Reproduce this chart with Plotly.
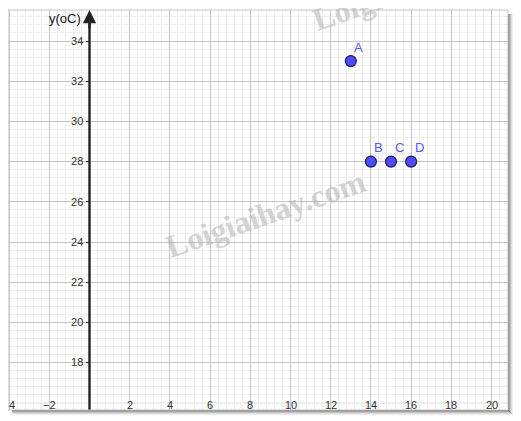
import plotly.graph_objects as go

# data
point_names = ["A", "B", "C", "D"]
point_x = [13, 14, 15, 16]
point_y = [33, 28, 28, 28]
xtick_vals = [-4, -2, 2, 4, 6, 8, 10, 12, 14, 16, 18, 20]
xtick_text = ["4", "−2", "2", "4", "6", "8", "10", "12", "14", "16", "18", "20"]
ytick_vals = [18, 20, 22, 24, 26, 28, 30, 32, 34]
y_title = "y(oC)"
watermark = "Loigiaihay.com"

# the page body has an 8px margin, so figure pixel = page pixel - 8
OFF = 8
W, H = 521 - OFF, 421 - OFF
ML, MT = 8 - OFF, 10 - OFF
PW, PH = 500, 400
MR, MB = W - ML - PW, H - MT - PH
X0, XPX = 89.5 - OFF, 20.1   # figure pixel of x=0, pixels per unit
XMIN = (ML - X0) / XPX
XMAX = (ML + PW - X0) / XPX
Y34, YPX = 41.0 - OFF, 20.1
YMAX = 34 + (Y34 - MT) / YPX
YMIN = 34 - (MT + PH - Y34) / YPX


def px(xp):  # page pixel -> paper x
    return (xp - OFF - ML) / PW


def py(yp):  # page pixel -> paper y
    return 1 - (yp - OFF - MT) / PH


fig = go.Figure()
fig.add_trace(go.Scatter(
    x=point_x, y=point_y, mode="markers",
    marker=dict(size=11, color="#4d4dff", line=dict(color="#1c1c5a", width=1.2)),
    hoverinfo="skip", showlegend=False, cliponaxis=False))

annotations = []
for n, x, y in zip(point_names, point_x, point_y):
    annotations.append(dict(x=x, y=y, xref="x", yref="y", text=n, showarrow=False,
                            xshift=8, yshift=14,
                            font=dict(family="Liberation Sans, Arial", size=13, color="#5555ff")))
for v, t in zip(xtick_vals, xtick_text):
    annotations.append(dict(x=v, y=0, xref="x", yref="paper", text=t, showarrow=False,
                            yanchor="bottom", yshift=-3, xshift=3 if v == -4 else 0,
                            font=dict(family="Liberation Sans, Arial", size=11, color="#333333")))
annotations.append(dict(x=px(83), y=py(18), xref="paper", yref="paper",
                        text=y_title, showarrow=False, xanchor="right", yanchor="middle",
                        font=dict(family="Liberation Sans, Arial", size=13, color="#111111")))
# y-axis arrow
annotations.append(dict(x=0, y=YMAX, ax=0, ay=YMAX - 1.0, xref="x", yref="y", axref="x", ayref="y",
                        text="", showarrow=True, arrowhead=2, arrowsize=1.1, arrowwidth=2.4,
                        arrowcolor="#222222", standoff=0))
# watermarks
wm_font = dict(family="Liberation Serif, Times New Roman", size=32, color="rgba(175,175,175,0.55)")
for cx, cy in [(265, 214), (412, -13)]:
    annotations.append(dict(x=px(cx), y=py(cy), xref="paper", yref="paper",
                            xanchor="center", yanchor="middle",
                            text="<b>" + watermark + "</b>", showarrow=False, textangle=-19,
                            font=wm_font))

shapes = [
    dict(type="line", xref="x", yref="y", x0=0, x1=0, y0=YMIN, y1=YMAX - 0.5,
         line=dict(color="#222222", width=2.4), layer="above"),
    dict(type="rect", xref="paper", yref="paper", x0=0, x1=1, y0=0, y1=1,
         line=dict(color="#c4c4c4", width=1), layer="above"),
]
for i, op in enumerate([0.75, 0.55, 0.35, 0.2, 0.1]):
    dx = (i + 1) / PW
    dy = (i + 1) / PH
    shapes.append(dict(type="rect", xref="paper", yref="paper",
                       x0=1 + i / PW, x1=1 + dx, y0=-(i + 1) / PH, y1=1 - 4 / PH,
                       fillcolor="#555555", opacity=op, line=dict(width=0), layer="below"))
    shapes.append(dict(type="rect", xref="paper", yref="paper",
                       x0=4 / PW, x1=1 + dx, y0=-dy, y1=-i / PH,
                       fillcolor="#555555", opacity=op, line=dict(width=0), layer="below"))

fig.update_layout(
    width=W, height=H, margin=dict(l=ML, r=MR, t=MT, b=MB, pad=0),
    paper_bgcolor="white", plot_bgcolor="white",
    annotations=annotations, shapes=shapes, showlegend=False,
    xaxis=dict(range=[XMIN, XMAX], tick0=0, dtick=2, showticklabels=False, ticks="",
               showgrid=True, gridcolor="#c4c4c4", gridwidth=1, zeroline=False, showline=False,
               minor=dict(tick0=0, dtick=0.4, showgrid=True, gridcolor="#efefef", gridwidth=1),
               fixedrange=True, automargin=False),
    yaxis=dict(range=[YMIN, YMAX], tickmode="array", tickvals=ytick_vals,
               ticktext=[str(v) for v in ytick_vals],
               anchor="free", position=(X0 - ML) / PW, side="left",
               ticks="outside", ticklen=4, tickwidth=1, tickcolor="#222222", showline=False,
               tickfont=dict(family="Liberation Sans, Arial", size=11, color="#333333"),
               showgrid=True, gridcolor="#c4c4c4", gridwidth=1, zeroline=False,
               minor=dict(tick0=0, dtick=0.4, showgrid=True, gridcolor="#efefef", gridwidth=1),
               fixedrange=True, automargin=False),
)
fig.add_hline(y=16, line=dict(color="#c4c4c4", width=1), layer="below")

fig.write_html("out.html")
